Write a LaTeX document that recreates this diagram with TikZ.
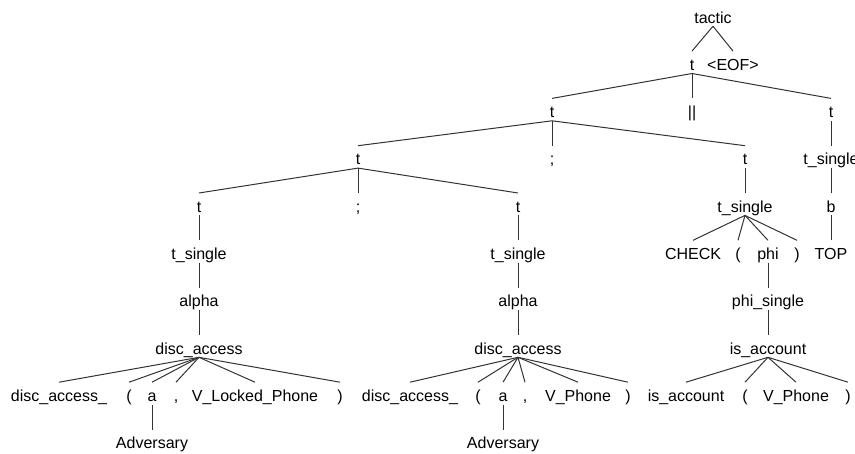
\documentclass[tikz,border=0pt]{standalone}
\usepackage{fontspec}
\setmainfont{Liberation Sans}
\begin{document}
\begin{tikzpicture}[x=1pt,y=-1pt,
  lbl/.style={anchor=base,inner sep=0pt,text height=19pt,text depth=3pt,
              font=\fontsize{16pt}{19pt}\selectfont,text=black},
  edge/.style={draw=black!80,line width=1pt}]
\useasboundingbox (0,0) rectangle (855,453);
% rows (baselines)
\def\ya{23}\def\yb{70.3}\def\yc{117.6}\def\yd{164.9}\def\ye{212.2}
\def\yf{259.5}\def\yg{306.8}\def\yh{354.1}\def\yi{401.4}\def\yj{448.7}
% levels 0-2
\node[lbl] (tac) at (713,\ya) {tactic};
\node[lbl] (t1) at (692,\yb) {t};
\node[lbl] (eof) at (733,\yb) {<EOF>};
\node[lbl] (t2a) at (552,\yc) {t};
\node[lbl] (par) at (692,\yc) {||};
\node[lbl] (t2b) at (831,\yc) {t};
% level 3
\node[lbl] (t3a) at (358,\yd) {t};
\node[lbl] (sc3) at (552,\yd) {;};
\node[lbl] (t3b) at (745,\yd) {t};
\node[lbl] (ts3) at (831,\yd) {t\_single};
% level 4
\node[lbl] (t4a) at (199,\ye) {t};
\node[lbl] (sc4) at (358,\ye) {;};
\node[lbl] (t4b) at (518,\ye) {t};
\node[lbl] (ts4) at (745,\ye) {t\_single};
\node[lbl] (b4) at (831,\ye) {b};
% level 5
\node[lbl] (ts5a) at (199,\yf) {t\_single};
\node[lbl] (ts5b) at (518,\yf) {t\_single};
\node[lbl] (chk) at (693,\yf) {CHECK};
\node[lbl] (lp5) at (738,\yf) {(};
\node[lbl] (phi) at (768,\yf) {phi};
\node[lbl] (rp5) at (797,\yf) {)};
\node[lbl] (top) at (831,\yf) {TOP};
% level 6
\node[lbl] (al6a) at (199,\yg) {alpha};
\node[lbl] (al6b) at (518,\yg) {alpha};
\node[lbl] (phs) at (768,\yg) {phi\_single};
% level 7
\node[lbl] (da7a) at (199,\yh) {disc\_access};
\node[lbl] (da7b) at (518,\yh) {disc\_access};
\node[lbl] (ia7) at (768,\yh) {is\_account};
% level 8
\node[lbl] (da8a) at (59,\yi) {disc\_access\_};
\node[lbl] (lp8a) at (129,\yi) {(};
\node[lbl] (a8a) at (152,\yi) {a};
\node[lbl] (cm8a) at (176,\yi) {,};
\node[lbl] (vl8) at (255,\yi) {V\_Locked\_Phone};
\node[lbl] (rp8a) at (340,\yi) {)};
\node[lbl] (da8b) at (410,\yi) {disc\_access\_};
\node[lbl] (lp8b) at (478,\yi) {(};
\node[lbl] (a8b) at (503,\yi) {a};
\node[lbl] (cm8b) at (525,\yi) {,};
\node[lbl] (vp8b) at (578,\yi) {V\_Phone};
\node[lbl] (rp8b) at (628,\yi) {)};
\node[lbl] (ia8) at (686,\yi) {is\_account};
\node[lbl] (lp8c) at (745,\yi) {(};
\node[lbl] (vp8c) at (796,\yi) {V\_Phone};
\node[lbl] (rp8c) at (848,\yi) {)};
% level 9
\node[lbl] (adva) at (152,\yj) {Adversary};
\node[lbl] (advb) at (503,\yj) {Adversary};
% connectors
\foreach \p/\c in {tac/t1,tac/eof,
  t1/t2a,t1/par,t1/t2b,
  t2a/t3a,t2a/sc3,t2a/t3b,t2b/ts3,
  t3a/t4a,t3a/sc4,t3a/t4b,t3b/ts4,ts3/b4,
  t4a/ts5a,t4b/ts5b,ts4/chk,ts4/lp5,ts4/phi,ts4/rp5,b4/top,
  ts5a/al6a,ts5b/al6b,phi/phs,
  al6a/da7a,al6b/da7b,phs/ia7,
  da7a/da8a,da7a/lp8a,da7a/a8a,da7a/cm8a,da7a/vl8,da7a/rp8a,
  da7b/da8b,da7b/lp8b,da7b/a8b,da7b/cm8b,da7b/vp8b,da7b/rp8b,
  ia7/ia8,ia7/lp8c,ia7/vp8c,ia7/rp8c,
  a8a/adva,a8b/advb}
  \draw[edge] (\p.south) -- (\c.north);
\end{tikzpicture}
\end{document}
